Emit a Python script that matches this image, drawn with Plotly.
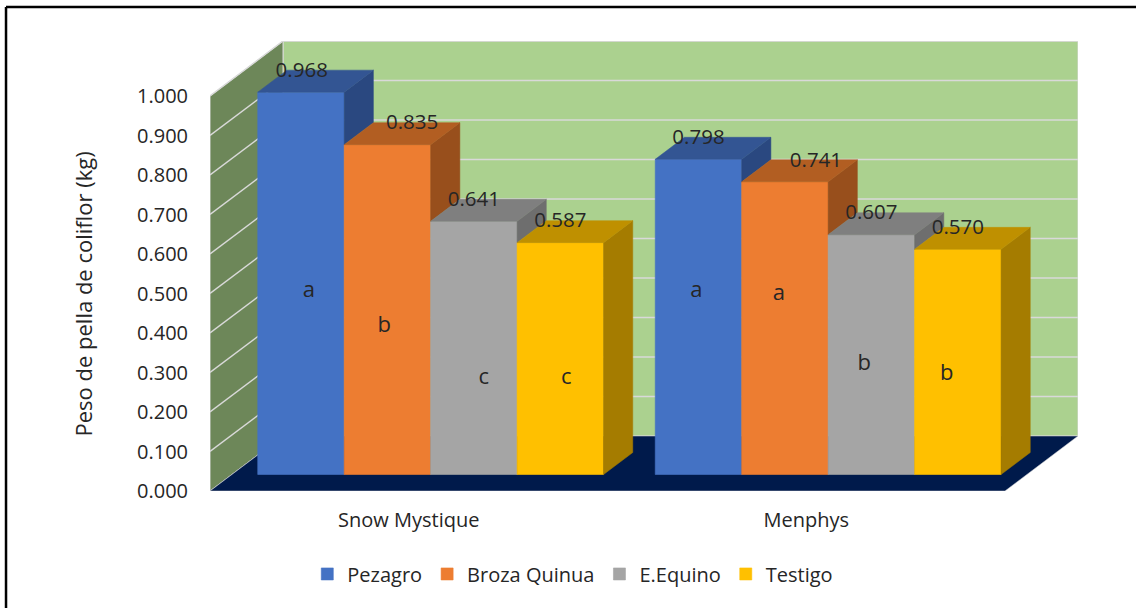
import plotly.graph_objects as go

# Chart values
categories = ["Snow Mystique", "Menphys"]
series_names = ["Pezagro", "Broza Quinua", "E.Equino", "Testigo"]
pezagro = [0.968, 0.798]
broza_quinua = [0.835, 0.741]
e_equino = [0.641, 0.607]
testigo = [0.587, 0.570]
letters_snow = ["a", "b", "c", "c"]
letters_menphys = ["a", "a", "b", "b"]
y_ticks = [0.0, 0.1, 0.2, 0.3, 0.4, 0.5, 0.6, 0.7, 0.8, 0.9, 1.0]

# Styling per series: front, top, side
front_colors = ["#4472C4", "#ED7D31", "#A5A5A5", "#FFC000"]
top_colors = ["#335593", "#B25E22", "#7F7F7F", "#BF9000"]
side_colors = ["#2A4880", "#984F1C", "#6E6E6E", "#A57C00"]
WALL_BACK = "#ABD18F"
WALL_LEFT = "#6D8759"
FLOOR = "#001A4B"
GRID = "#D9D9D9"
FONT = "Open Sans"
TEXT = "#262626"

# Oblique projection: one unit of depth moves a point right and up
PX_PER_CATEGORY = 397.5
PX_PER_UNIT = 395.0
DEPTH_X = 73 / PX_PER_CATEGORY
DEPTH_Y = 55 / PX_PER_UNIT
NEAR, FAR = 0.3, 0.7
GROUP_PAD = 0.065
BAR_W = (1 - 2 * GROUP_PAD) / 4
X_MAX = 868 / PX_PER_CATEGORY
Y_MAX = 450 / PX_PER_UNIT

# Label placement, in axis units
VALUE_SHIFT_X = [0.002, 0.062, 0.0, 0.0, 0.0, 0.078, 0.0, 0.0]
LETTER_SHIFT_X = [0.02, -0.008, 0.025, 0.015, -0.005, -0.015, -0.018, -0.028]
LETTER_Y = [0.505, 0.417, 0.285, 0.285, 0.505, 0.498, 0.321, 0.295]


def project(x, v, depth):
    return x + depth * DEPTH_X, v + depth * DEPTH_Y


def poly_path(points):
    return "M " + " L ".join(f"{x},{y}" for x, y in points) + " Z"


series = [pezagro, broza_quinua, e_equino, testigo]
fig = go.Figure()

# Front faces, with the base raised to the near edge of the bars
base_y = NEAR * DEPTH_Y
for s, (name, values) in enumerate(zip(series_names, series)):
    centers = [g + GROUP_PAD + NEAR * DEPTH_X + BAR_W * (s + 0.5) for g in range(len(categories))]
    fig.add_trace(go.Bar(
        x=centers, y=values, base=base_y, width=BAR_W, name=name,
        marker=dict(color=front_colors[s], line=dict(color=front_colors[s], width=0.6)),
        hoverinfo="skip",
    ))


def add_face(points, color):
    fig.add_trace(go.Scatter(
        x=[p[0] for p in points] + [points[0][0]],
        y=[p[1] for p in points] + [points[0][1]],
        mode="lines", fill="toself", fillcolor=color,
        line=dict(color=color, width=0.5),
        showlegend=False, hoverinfo="skip",
    ))


# Side and top faces; each side stops where the next bar's front hides it
for g in range(len(categories)):
    for s, values in enumerate(series):
        v = values[g]
        left = g + GROUP_PAD + BAR_W * s
        right = left + BAR_W
        lower = series[s + 1][g] if s + 1 < len(series) else 0.0
        add_face([
            project(right, lower, NEAR),
            project(right, v, NEAR),
            project(right, v, FAR),
            project(right, lower, FAR),
        ], side_colors[s])
        add_face([
            project(left, v, NEAR),
            project(right, v, NEAR),
            project(right, v, FAR),
            project(left, v, FAR),
        ], top_colors[s])

# Value labels sit on the back edge of each bar top; letters on the front faces
value_x, value_y, value_text = [], [], []
letter_x, letter_text = [], []
all_letters = letters_snow + letters_menphys
idx = 0
for g in range(len(categories)):
    for s, values in enumerate(series):
        cx = g + GROUP_PAD + NEAR * DEPTH_X + BAR_W * (s + 0.5)
        value_x.append(cx + VALUE_SHIFT_X[idx])
        value_y.append(values[g] + FAR * DEPTH_Y - 0.004)
        value_text.append(f"{values[g]:.3f}")
        letter_x.append(cx + LETTER_SHIFT_X[idx])
        letter_text.append(all_letters[idx])
        idx += 1

fig.add_trace(go.Scatter(
    x=value_x, y=value_y, text=value_text, mode="text", textposition="middle center",
    textfont=dict(family=FONT, size=20.5, color=TEXT), showlegend=False, hoverinfo="skip",
))
fig.add_trace(go.Scatter(
    x=letter_x, y=LETTER_Y, text=letter_text, mode="text", textposition="middle center",
    textfont=dict(family=FONT, size=22, color=TEXT), showlegend=False, hoverinfo="skip",
))

# Walls, floor and gridlines sit beneath the bars
shapes = []
wall_line = dict(color=GRID, width=1)
shapes.append(dict(type="path", layer="below", fillcolor=WALL_BACK, line=wall_line, path=poly_path([
    project(0, 0, 1), project(2, 0, 1), project(2, 1, 1), project(0, 1, 1)])))
shapes.append(dict(type="path", layer="below", fillcolor=WALL_LEFT, line=wall_line, path=poly_path([
    project(0, 0, 0), project(0, 0, 1), project(0, 1, 1), project(0, 1, 0)])))
for t in y_ticks[1:]:
    x0, y0 = project(0, t, 0)
    x1, y1 = project(0, t, 1)
    x2, y2 = project(2, t, 1)
    grid = dict(color=GRID, width=1.5)
    shapes.append(dict(type="line", layer="below", x0=x0, y0=y0, x1=x1, y1=y1, line=grid))
    shapes.append(dict(type="line", layer="below", x0=x1, y0=y1, x1=x2, y1=y2, line=grid))
shapes.append(dict(type="path", layer="below", fillcolor=FLOOR, line=dict(color=GRID, width=0.5), path=poly_path([
    project(0, 0, 0), project(2, 0, 0), project(2, 0, 1), project(0, 0, 1)])))

# Chart frame, top and left edges
frame = dict(color="#000000", width=2.5)
shapes.append(dict(type="line", xref="paper", yref="paper", x0=-0.235, x1=1.1, y0=1.0756, y1=1.0756, line=frame))
shapes.append(dict(type="line", xref="paper", yref="paper", x0=-0.235, x1=-0.235, y0=1.0756, y1=-0.3, line=frame))

fig.update_layout(
    width=1136, height=608, autosize=False,
    margin=dict(l=210, r=58, t=41, b=117),
    paper_bgcolor="#FFFFFF", plot_bgcolor="rgba(0,0,0,0)",
    barmode="overlay", shapes=shapes,
    font=dict(family=FONT, color=TEXT),
    legend=dict(
        orientation="h", xref="container", yref="container",
        x=0.2705, xanchor="left", y=0.056, yanchor="middle",
        font=dict(family=FONT, size=20, color=TEXT), traceorder="normal",
    ),
    xaxis=dict(
        range=[0, X_MAX], showgrid=False, zeroline=False, showline=False,
        tickmode="array", tickvals=[0.5, 1.5], ticktext=categories,
        ticks="outside", ticklen=11, tickcolor="rgba(0,0,0,0)",
        tickfont=dict(family=FONT, size=20, color=TEXT),
    ),
    yaxis=dict(
        range=[0, Y_MAX], showgrid=False, zeroline=False, showline=False,
        tickmode="array", tickvals=y_ticks, tickformat=".3f",
        ticks="outside", ticklen=17, tickcolor="rgba(0,0,0,0)",
        tickfont=dict(family=FONT, size=20, color=TEXT),
    ),
    annotations=[dict(
        text="Peso de pella de coliflor (kg)", textangle=-90, showarrow=False,
        xref="paper", yref="paper", x=-128 / 868, y=(491 - 294.5) / 450,
        xanchor="center", yanchor="middle",
        font=dict(family=FONT, size=22, color=TEXT),
    )],
)

fig.write_html("out.html")
